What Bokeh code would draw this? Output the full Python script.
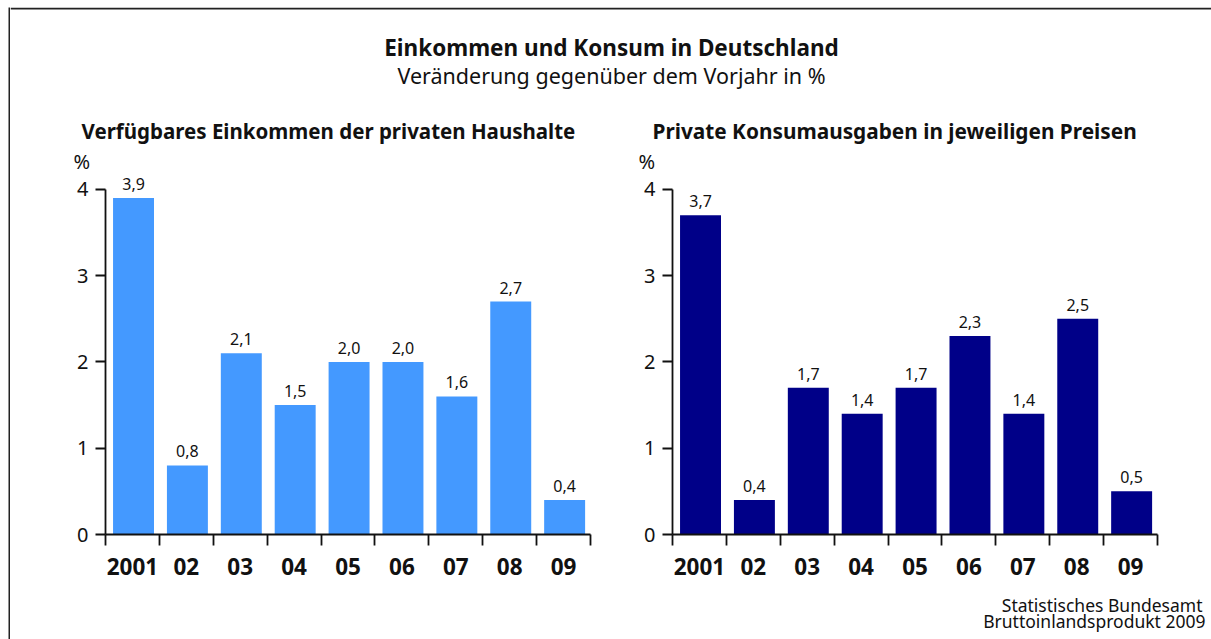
from bokeh.plotting import figure
from bokeh.layouts import column, row
from bokeh.models import Range1d, FixedTicker, ColumnDataSource, LinearAxis, Title
from bokeh.core.properties import value
from bokeh.embed import file_html
from bokeh.resources import INLINE

FONT = "Noto Sans"

# ---- data ----
categories = ["2001", "02", "03", "04", "05", "06", "07", "08", "09"]
income = [3.9, 0.8, 2.1, 1.5, 2.0, 2.0, 1.6, 2.7, 0.4]
consumption = [3.7, 0.4, 1.7, 1.4, 1.7, 2.3, 1.4, 2.5, 0.5]
y_ticks = [0, 1, 2, 3, 4]
y_unit = "%"

title = "Einkommen und Konsum in Deutschland"
subtitle = "Veränderung gegenüber dem Vorjahr in %"
left_title = "Verfügbares Einkommen der privaten Haushalte"
right_title = "Private Konsumausgaben in jeweiligen Preisen"
source_lines = ["Statistisches Bundesamt", "Bruttoinlandsprodukt 2009"]

PAGE_W = 1211
MARGIN_L = 8
MARGIN_T = 7
BW = 2
TOTAL_W = PAGE_W - MARGIN_L - BW  # 1201
HEAD_H = 138
CHART_TOP = 30
CHART_H = 442
FOOT_H = 52
BORDER = "#222222"
INK = "#111111"


def text_fig(w, h):
    p = figure(width=w, height=h, x_range=Range1d(0, w), y_range=Range1d(h, 0),
               output_backend="svg", toolbar_location=None,
               x_axis_type=None, y_axis_type=None,
               min_border=0, min_border_left=0, min_border_right=0,
               min_border_top=0, min_border_bottom=0)
    p.outline_line_color = None
    p.grid.visible = False
    return p


def strip_fig(w, h, color):
    p = figure(width=w, height=h, output_backend="svg", toolbar_location=None,
               x_axis_type=None, y_axis_type=None,
               min_border=0, min_border_left=0, min_border_right=0,
               min_border_top=0, min_border_bottom=0)
    p.outline_line_color = None
    p.grid.visible = False
    p.background_fill_color = color
    p.border_fill_color = color
    return p


def put(p, x, y, t, size, bold=False, align="left", color=INK):
    p.text(x=[x], y=[y], text=[t], text_font=value(FONT), text_font_size=size,
           text_font_style="bold" if bold else "normal", text_align=align,
           text_baseline="middle", text_color=color)


# ---- header (with the top border line) ----
head = text_fig(TOTAL_W, HEAD_H)
head.quad(left=[0], right=[TOTAL_W], top=[0], bottom=[BW],
          fill_color=BORDER, line_color=None)
put(head, 601, 40, title, "22.5px", bold=True, align="center")
put(head, 601, 68, subtitle, "21.5px", align="center")
put(head, 71, 123, left_title, "20.5px", bold=True)
put(head, 642, 123, right_title, "20.8px", bold=True)


# ---- charts ----
def make_chart(values, color, width, left, right, unit_offset):
    n = len(categories)
    p = figure(width=width, height=CHART_H, x_range=Range1d(0, n),
               y_range=Range1d(0, 4.162), output_backend="svg",
               toolbar_location=None, x_axis_type=None, y_axis_type=None,
               min_border_left=left, min_border_right=right,
               min_border_top=CHART_TOP, min_border_bottom=53)
    p.outline_line_color = None
    p.grid.visible = False
    xs = [i + 0.52 for i in range(n)]
    labels = [f"{v:.1f}".replace(".", ",") for v in values]
    src = ColumnDataSource(dict(x=xs, top=values, label=labels))
    p.vbar(x="x", top="top", bottom=0, width=0.76, source=src,
           fill_color=color, line_color=None)
    p.text(x="x", y="top", text="label", source=src, text_align="center",
           text_baseline="bottom", y_offset=-8, text_font=value(FONT),
           text_font_size="16px", text_color=INK)

    yaxis = LinearAxis(ticker=FixedTicker(ticks=y_ticks, minor_ticks=[]),
                       bounds=(0, 4))
    yaxis.major_tick_out = 10
    yaxis.major_tick_in = 0
    yaxis.minor_tick_out = 0
    yaxis.minor_tick_in = 0
    yaxis.major_label_standoff = 7
    yaxis.major_label_text_font = FONT
    yaxis.major_label_text_font_size = "20px"
    yaxis.major_label_text_color = INK
    yaxis.axis_line_color = INK
    yaxis.axis_line_width = 1.8
    yaxis.major_tick_line_color = INK
    yaxis.major_tick_line_width = 1.8
    p.add_layout(yaxis, "left")

    centers = [i + 0.5 for i in range(n)]
    xaxis = LinearAxis(ticker=FixedTicker(ticks=centers,
                                          minor_ticks=list(range(n + 1))),
                       major_label_overrides={c: lab for c, lab in zip(centers, categories)})
    xaxis.major_tick_out = 0
    xaxis.major_tick_in = 0
    xaxis.minor_tick_out = 11
    xaxis.minor_tick_in = 0
    xaxis.minor_tick_line_color = INK
    xaxis.minor_tick_line_width = 1.8
    xaxis.major_label_standoff = 12
    xaxis.major_label_text_font = FONT
    xaxis.major_label_text_font_size = "22.5px"
    xaxis.major_label_text_font_style = "bold"
    xaxis.major_label_text_color = INK
    xaxis.axis_line_color = INK
    xaxis.axis_line_width = 1.8
    p.add_layout(xaxis, "below")

    p.add_layout(Title(text=y_unit, align="left", offset=unit_offset,
                       text_font=FONT, text_font_size="20px",
                       text_font_style="normal", text_color=INK,
                       standoff=1, vertical_align="bottom"), "above")
    return p


left_chart = make_chart(income, "#4499ff", 610, 95, 30, -32)
right_chart = make_chart(consumption, "#000088", TOTAL_W - 610, 52, 54, -34)

# ---- footer ----
foot = text_fig(TOTAL_W, FOOT_H)
put(foot, 1192, 17, source_lines[0], "17.5px", align="right")
put(foot, 1195, 33, source_lines[1], "17.5px", align="right")

inner_h = HEAD_H + CHART_H + FOOT_H
top_space = strip_fig(PAGE_W, MARGIN_T, "#ffffff")
left_space = strip_fig(MARGIN_L, inner_h, "#ffffff")
left_strip = strip_fig(BW, inner_h, BORDER)

layout = column(top_space,
                row(left_space, left_strip,
                    column(head, row(left_chart, right_chart), foot)))

open("out.html", "w").write(file_html(layout, INLINE))
